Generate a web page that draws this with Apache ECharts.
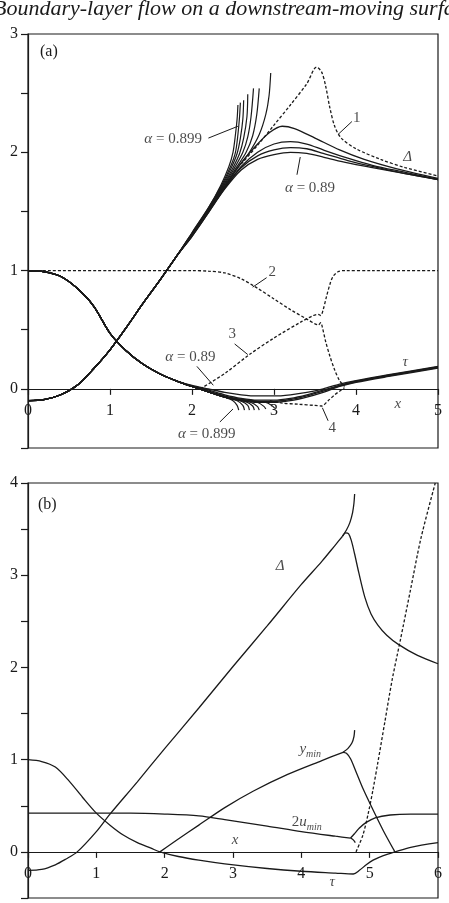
<!DOCTYPE html>
<html>
<head>
<meta charset="utf-8">
<script src="https://cdn.jsdelivr.net/npm/echarts@6/dist/echarts.min.js"></script>
<style>
  html, body { margin: 0; padding: 0; background: #fff; }
  #main { width: 449px; height: 903px; }
</style>
</head>
<body>
<div id="main"></div>
<script>
// ---------- panel (a) ----------
// common rising part of the Delta curves
var deltaCommonA = [[0,-0.1],[0.2,-0.09],[0.4,-0.05],[0.6,0.03],[0.8,0.17],[1.0,0.33],[1.2,0.52],[1.4,0.72],[1.6,0.91],[1.8,1.11]];
// alpha close to 0.899: blow up
var deltaSteepA = [
  [[1.8,1.11],[2.0,1.32],[2.2,1.53],[2.35,1.72],[2.45,1.88],[2.5,2.0],[2.53,2.15],[2.55,2.28],[2.56,2.4]],
  [[1.8,1.11],[2.0,1.32],[2.2,1.53],[2.36,1.72],[2.47,1.88],[2.53,2.0],[2.56,2.15],[2.58,2.3],[2.59,2.42]],
  [[1.8,1.11],[2.0,1.31],[2.2,1.52],[2.37,1.72],[2.48,1.87],[2.55,1.99],[2.59,2.12],[2.62,2.28],[2.63,2.44]],
  [[1.8,1.11],[2.0,1.31],[2.2,1.52],[2.38,1.72],[2.5,1.87],[2.58,1.99],[2.63,2.12],[2.67,2.3],[2.68,2.49]],
  [[1.8,1.1],[2.0,1.3],[2.2,1.51],[2.39,1.72],[2.52,1.87],[2.62,2.0],[2.68,2.13],[2.72,2.3],[2.75,2.54]],
  [[1.8,1.1],[2.0,1.3],[2.2,1.51],[2.4,1.72],[2.54,1.87],[2.66,2.0],[2.74,2.14],[2.79,2.32],[2.82,2.54]],
  [[1.8,1.1],[2.0,1.3],[2.2,1.5],[2.4,1.71],[2.56,1.87],[2.7,2.0],[2.82,2.15],[2.9,2.32],[2.94,2.48],[2.96,2.67]]
];
// alpha = 0.89 ... : pass through a hump
var deltaHumpA = [
  [[1.8,1.1],[2.0,1.29],[2.2,1.49],[2.4,1.69],[2.6,1.85],[2.8,1.94],[3.0,1.98],[3.2,2.0],[3.4,1.99],[3.6,1.96],[3.9,1.91],[4.2,1.87],[4.6,1.82],[5.0,1.77]],
  [[1.8,1.1],[2.0,1.29],[2.2,1.49],[2.4,1.7],[2.6,1.87],[2.8,1.97],[3.0,2.02],[3.2,2.04],[3.4,2.03],[3.6,1.99],[3.9,1.93],[4.2,1.88],[4.6,1.82],[5.0,1.77]],
  [[1.8,1.1],[2.0,1.3],[2.2,1.5],[2.4,1.7],[2.6,1.88],[2.8,2.0],[3.0,2.07],[3.2,2.09],[3.4,2.07],[3.6,2.02],[3.9,1.95],[4.2,1.89],[4.6,1.83],[5.0,1.77]],
  [[1.8,1.1],[2.0,1.3],[2.2,1.5],[2.4,1.71],[2.6,1.91],[2.8,2.07],[2.95,2.17],[3.1,2.22],[3.25,2.2],[3.5,2.12],[3.8,2.02],[4.1,1.94],[4.5,1.86],[5.0,1.78]]
];
var tauCommonA = [[0,1.0],[0.2,0.99],[0.4,0.95],[0.6,0.85],[0.8,0.7],[1.0,0.47],[1.2,0.32],[1.4,0.21],[1.6,0.13],[1.8,0.07]];
var tauHumpA = [
  [[1.8,0.07],[2.0,0.03],[2.2,0.0],[2.4,-0.03],[2.6,-0.05],[2.8,-0.06],[3.0,-0.06],[3.2,-0.05],[3.4,-0.03],[3.6,0.0],[3.8,0.04],[4.0,0.07],[4.4,0.12],[5.0,0.19]],
  [[1.8,0.07],[2.0,0.025],[2.2,-0.01],[2.4,-0.05],[2.6,-0.08],[2.8,-0.095],[3.0,-0.095],[3.2,-0.08],[3.4,-0.05],[3.6,-0.01],[3.8,0.03],[4.0,0.065],[4.4,0.115],[5.0,0.185]],
  [[1.8,0.065],[2.0,0.02],[2.2,-0.02],[2.4,-0.06],[2.6,-0.09],[2.8,-0.105],[3.0,-0.105],[3.2,-0.09],[3.4,-0.06],[3.6,-0.02],[3.8,0.025],[4.0,0.06],[4.4,0.11],[5.0,0.18]],
  [[1.8,0.065],[2.0,0.02],[2.2,-0.025],[2.4,-0.07],[2.6,-0.1],[2.8,-0.115],[3.0,-0.115],[3.2,-0.1],[3.4,-0.07],[3.6,-0.03],[3.8,0.02],[4.0,0.055],[4.4,0.105],[5.0,0.175]]
];
var tauSteepA = [
  [[1.8,0.065],[2.0,0.02],[2.2,-0.025],[2.4,-0.07],[2.5,-0.1],[2.55,-0.14],[2.57,-0.18]],
  [[1.8,0.065],[2.0,0.02],[2.2,-0.025],[2.4,-0.07],[2.55,-0.1],[2.62,-0.14],[2.64,-0.18]],
  [[1.8,0.065],[2.0,0.02],[2.2,-0.025],[2.4,-0.07],[2.6,-0.105],[2.68,-0.14],[2.7,-0.18]],
  [[1.8,0.065],[2.0,0.02],[2.2,-0.025],[2.4,-0.07],[2.66,-0.11],[2.74,-0.145],[2.76,-0.18]],
  [[1.8,0.065],[2.0,0.02],[2.2,-0.025],[2.4,-0.07],[2.72,-0.115],[2.8,-0.15],[2.82,-0.18]],
  [[1.8,0.065],[2.0,0.02],[2.2,-0.025],[2.4,-0.07],[2.8,-0.115],[2.88,-0.15],[2.9,-0.17]],
  [[1.8,0.065],[2.0,0.02],[2.2,-0.025],[2.4,-0.07],[2.9,-0.115],[2.98,-0.145],[3.01,-0.165]]
];
var dashed1A = [[2.6,1.9],[2.8,2.06],[3.0,2.23],[3.2,2.4],[3.4,2.58],[3.52,2.72],[3.58,2.68],[3.63,2.56],[3.68,2.38],[3.74,2.22],[3.82,2.12],[4.0,2.03],[4.3,1.94],[4.6,1.87],[5.0,1.8]];
var dashed2A = [[0,1.0],[1.0,1.0],[2.0,1.0],[2.2,0.995],[2.4,0.98],[2.6,0.93],[2.8,0.85],[3.0,0.76],[3.2,0.67],[3.4,0.59],[3.5,0.55],[3.54,0.54],[3.57,0.56],[3.59,0.52],[3.63,0.4],[3.68,0.28],[3.74,0.16],[3.8,0.07],[3.86,0.02]];
var dashed3A = [[2.1,0.0],[2.4,0.13],[2.7,0.29],[3.0,0.43],[3.34,0.57],[3.48,0.62],[3.54,0.63],[3.57,0.62],[3.6,0.67],[3.64,0.78],[3.68,0.88],[3.72,0.95],[3.78,0.99],[3.86,1.0],[4.2,1.0],[5.0,1.0]];
var dashed4A = [[2.95,-0.1],[3.1,-0.12],[3.3,-0.13],[3.5,-0.14],[3.58,-0.145],[3.66,-0.1],[3.74,-0.05],[3.8,-0.02],[3.86,0.01]];

var labelsA = [
  [1.77, 2.11, '{i|α} = 0.899'],
  [3.44, 1.70, '{i|α} = 0.89'],
  [4.63, 1.96, '{i|Δ}'],
  [4.01, 2.29, '1'],
  [2.98, 0.99, '2'],
  [2.49, 0.46, '3'],
  [3.71, -0.33, '4'],
  [4.60, 0.23, '{i|τ}'],
  [4.51, -0.13, '{i|x}'],
  [1.98, 0.27, '{i|α} = 0.89'],
  [2.18, -0.38, '{i|α} = 0.899']
];
var leadersA = [
  [[2.2,2.12],[2.56,2.22]],
  [[3.28,1.81],[3.32,1.96]],
  [[3.78,2.15],[3.95,2.26]],
  [[2.74,0.86],[2.91,0.94]],
  [[2.52,0.38],[2.68,0.29]],
  [[3.59,-0.16],[3.66,-0.27]],
  [[2.06,0.19],[2.26,0.03]],
  [[2.34,-0.28],[2.5,-0.17]]
];

// ---------- panel (b) ----------
var deltaB = [[0,-0.2],[0.2,-0.19],[0.4,-0.14],[0.55,-0.08],[0.72,0],[1.0,0.22],[1.2,0.41],[1.6,0.76],[2.0,1.12],[2.5,1.56],[3.0,2.01],[3.5,2.45],[4.0,2.9],[4.3,3.15],[4.5,3.33],[4.6,3.42]];
var deltaSingB = [[4.6,3.42],[4.66,3.49],[4.71,3.57],[4.75,3.68],[4.77,3.78],[4.78,3.88]];
var deltaDownB = [[4.6,3.42],[4.65,3.46],[4.69,3.45],[4.73,3.38],[4.78,3.23],[4.84,3.03],[4.93,2.76],[5.02,2.58],[5.12,2.46],[5.25,2.35],[5.42,2.25],[5.7,2.13],[6.0,2.04]];
var tauB = [[0,1.0],[0.2,0.98],[0.4,0.92],[0.6,0.77],[0.8,0.59],[1.0,0.42],[1.2,0.29],[1.4,0.18],[1.6,0.1],[1.8,0.04],[1.93,0.0],[2.2,-0.05],[2.5,-0.09],[2.88,-0.13],[3.5,-0.18],[4.0,-0.21],[4.5,-0.23],[4.76,-0.24],[4.85,-0.2],[4.95,-0.14],[5.05,-0.09],[5.2,-0.04],[5.37,0.0],[5.6,0.05],[6.0,0.1]];
var yminB = [[1.93,0],[2.2,0.14],[2.5,0.29],[2.88,0.48],[3.3,0.66],[3.8,0.84],[4.3,0.99],[4.61,1.08]];
var yminCurlB = [[4.61,1.08],[4.68,1.12],[4.74,1.18],[4.77,1.25],[4.78,1.32]];
var yminDownB = [[4.61,1.08],[4.66,1.07],[4.72,1.01],[4.8,0.87],[4.9,0.69],[5.04,0.47],[5.2,0.23],[5.37,0.0]];
var uminB = [[0,0.42],[0.5,0.42],[1.0,0.42],[1.5,0.42],[2.0,0.41],[2.5,0.39],[2.88,0.35],[3.5,0.28],[4.0,0.22],[4.5,0.17],[4.72,0.15]];
var uminCurlB = [[4.72,0.15],[4.76,0.13],[4.79,0.1]];
var uminUpB = [[4.72,0.15],[4.78,0.2],[4.85,0.26],[4.95,0.32],[5.08,0.37],[5.3,0.4],[5.6,0.41],[6.0,0.41]];
var dashedB = [[4.8,0.0],[4.9,0.18],[4.98,0.42],[5.05,0.68],[5.12,0.97],[5.22,1.4],[5.33,1.87],[5.45,2.3],[5.6,2.85],[5.75,3.4],[5.96,4.0]];

var labelsB = [
  [3.69, 3.10, '{i|Δ}'],
  [4.13, 1.11, '{i|y}{s|min}'],
  [4.08, 0.32, '2{i|u}{s|min}'],
  [3.03, 0.13, '{i|x}'],
  [4.45, -0.33, '{i|τ}']
];

var FONT = '"Liberation Serif", "DejaVu Serif", serif';
var INK = '#1a1a1a';

var chart = echarts.init(document.getElementById('main'), null, { renderer: 'canvas' });

function curve(data, g, dashed, w) {
  return {
    type: 'line', xAxisIndex: g, yAxisIndex: g, data: data,
    showSymbol: false, symbol: 'none', smooth: 0.3, silent: true,
    lineStyle: { color: INK, width: w || 1.2, type: dashed ? [3, 2] : 'solid' },
    z: 3
  };
}
function join(a, b) { return a.concat(b.slice(1)); }

var series = [];
deltaSteepA.forEach(function (t) { series.push(curve(join(deltaCommonA, t), 0, false, 1.2)); });
deltaHumpA.forEach(function (t) { series.push(curve(join(deltaCommonA, t), 0, false, 1.3)); });
tauHumpA.forEach(function (t) { series.push(curve(join(tauCommonA, t), 0, false, 1.3)); });
tauSteepA.forEach(function (t) { series.push(curve(join(tauCommonA, t), 0, false, 1.2)); });
[dashed1A, dashed2A, dashed3A, dashed4A].forEach(function (d) { series.push(curve(d, 0, true, 1.3)); });

[deltaB, deltaSingB, deltaDownB, tauB, yminB, yminCurlB, yminDownB, uminB, uminCurlB, uminUpB].forEach(function (d) {
  series.push(curve(d, 1, false, 1.3));
});
series.push(curve(dashedB, 1, true, 1.3));

var richStyle = {
  i: { fontFamily: FONT, fontStyle: 'italic', fontSize: 15, color: INK },
  s: { fontFamily: FONT, fontStyle: 'italic', fontSize: 10, color: INK, padding: [9, 0, 0, 0] }
};
function labelSeries(list, g) {
  return {
    type: 'scatter', xAxisIndex: g, yAxisIndex: g, symbolSize: 0, silent: true,
    data: list.map(function (l) { return { value: [l[0], l[1]], name: l[2] }; }),
    label: {
      show: true, position: 'inside', formatter: '{b}',
      fontFamily: FONT, fontSize: 15, color: INK, rich: richStyle
    },
    z: 5
  };
}
series.push(labelSeries(labelsA, 0));
series.push(labelSeries(labelsB, 1));
series.push({
  type: 'lines', coordinateSystem: 'cartesian2d', xAxisIndex: 0, yAxisIndex: 0, silent: true,
  data: leadersA.map(function (c) { return { coords: c }; }),
  lineStyle: { color: INK, width: 1, opacity: 1, curveness: 0 }, z: 4
});

// the x axis sits on y = 0, half a unit above the bottom of each frame
function xAxis(g, max, lift) {
  return {
    type: 'value', gridIndex: g, min: 0, max: max, interval: 1, position: 'bottom', offset: -lift,
    axisLine: { show: true, onZero: false, lineStyle: { color: INK, width: 1.2 } },
    axisTick: { show: true, length: 6, inside: false, lineStyle: { color: INK, width: 1.2 } },
    axisLabel: { show: true, margin: 14, fontFamily: FONT, fontSize: 16, color: INK,
                 showMinLabel: true, showMaxLabel: true },
    splitLine: { show: false }
  };
}
function yAxis(g, max) {
  return {
    type: 'value', gridIndex: g, min: -0.5, max: max, interval: 0.5,
    axisLine: { show: true, onZero: false, lineStyle: { color: INK, width: 1.2 } },
    axisTick: { show: true, length: 7, inside: false, lineStyle: { color: INK, width: 1.2 } },
    axisLabel: {
      show: true, margin: 10, fontFamily: FONT, fontSize: 16, color: INK,
      showMinLabel: true, showMaxLabel: true,
      formatter: function (v) { return (v >= 0 && Math.abs(v - Math.round(v)) < 1e-6) ? String(Math.round(v)) : ''; }
    },
    splitLine: { show: false }
  };
}

var hA = 414, hB = 415;
chart.setOption({
  animation: false,
  backgroundColor: '#fff',
  textStyle: { fontFamily: FONT },
  grid: [
    { left: 28, top: 34, width: 410, height: hA, show: true, borderColor: INK, borderWidth: 1.2, backgroundColor: 'transparent' },
    { left: 28, top: 483, width: 410, height: hB, show: true, borderColor: INK, borderWidth: 1.2, backgroundColor: 'transparent' }
  ],
  xAxis: [xAxis(0, 5, hA * 0.5 / 3.5), xAxis(1, 6, hB * 0.5 / 4.5)],
  yAxis: [yAxis(0, 3), yAxis(1, 4)],
  graphic: [
    { type: 'text', left: -7, top: -2, silent: true,
      style: { text: 'Boundary-layer flow on a downstream-moving surface', fontFamily: FONT,
               fontStyle: 'italic', fontSize: 22, fill: INK } },
    { type: 'text', left: 40, top: 44, silent: true,
      style: { text: '(a)', fontFamily: FONT, fontSize: 16, fill: INK } },
    { type: 'text', left: 38, top: 497, silent: true,
      style: { text: '(b)', fontFamily: FONT, fontSize: 16, fill: INK } }
  ],
  series: series
});
</script>
</body>
</html>
